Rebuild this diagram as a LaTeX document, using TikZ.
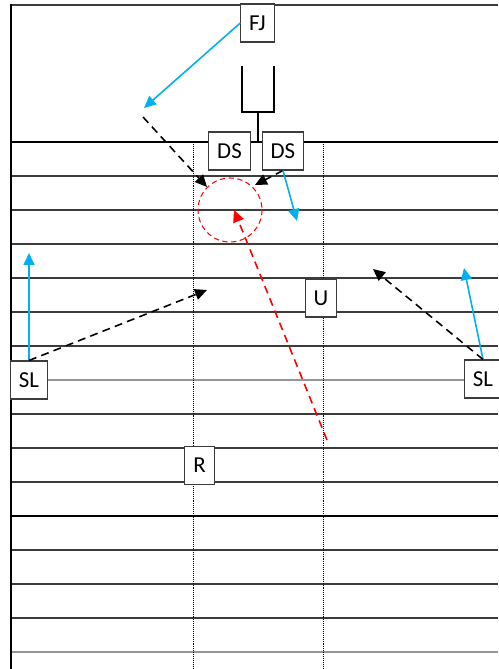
\documentclass[tikz,border=0pt]{standalone}
\usepackage{fontspec}
\setmainfont{Carlito}
\usetikzlibrary{arrows.meta,positioning}
\definecolor{colCourse}{RGB}{0,176,240}
\definecolor{colBallon}{RGB}{255,0,0}
\definecolor{colTrait}{RGB}{60,60,60}
\definecolor{colClair}{RGB}{150,150,150}

\begin{document}
\begin{tikzpicture}[x=0.02cm, y=-0.02cm, font=\fontsize{13}{15}\selectfont,
    j/.style={rectangle, draw=colTrait, fill=white, line width=0.6pt,
      minimum height=0.76cm, inner xsep=4.8pt, inner ysep=2pt},
    course/.style={-{Triangle[length=2.4mm, width=2.2mm]}, line width=0.9pt,
      colCourse},
    passe/.style={-{Triangle[length=2.4mm, width=2.2mm]}, line width=0.9pt,
      dash pattern=on 4.5pt off 3pt},
    ballon/.style={-{Triangle[length=2.4mm, width=2.2mm]}, line width=0.9pt,
      colBallon, dash pattern=on 4.5pt off 3pt},
    ligne/.style={colTrait, line width=0.7pt}]
    \useasboundingbox (0,0) rectangle (498,669);
    % terrain
    \foreach \y in {176,210,244,278,312,346,414,448,482,550,584,618}
      \draw[ligne] (11,\y) -- (498,\y);
    \foreach \y in {380,652}
      \draw[colClair, line width=0.7pt] (11,\y) -- (498,\y);
    \draw[line width=1.5pt] (11,142) -- (498,142);
    \draw[line width=1.5pt] (11,516) -- (498,516);
    \draw[ligne, line width=1pt] (11,5) -- (498,5);
    \draw[line width=1.4pt] (11,4) -- (11,669);
    \foreach \x in {193,323}
      \draw[line width=0.5pt, dash pattern=on 0.5pt off 0.6pt] (\x,142) -- (\x,669);
    % poteaux
    \draw[line width=1pt] (242,66) -- (242,112) -- (274,112) -- (274,66);
    \draw[line width=1pt] (258,112) -- (258,142);
    \draw[colBallon, line width=0.6pt, dash pattern=on 3pt off 2pt]
      (230,210) circle (32);
    % joueurs
    \node[j] (fj) at (257.5,23) {FJ};
    \node[j] (dsg) at (229.5,151) {DS};
    \node[j, right=0.22cm of dsg] (dsd) {DS};
    \node[j] (u) at (321,298) {U};
    \node[j] (r) at (199.5,465.5) {R};
    \node[j] (slg) at (29,380) {SL};
    \node[j] (sld) at (483,379) {SL};
    % fins de trajets
    \coordinate (fjfin) at (144,108);
    \coordinate (pdeb) at (143,117);
    \coordinate (pfin) at (207,187);
    \coordinate (dsfin) at (255,185);
    \coordinate (dscourse) at (297,221);
    \coordinate (slgcourse) at (29,253);
    \coordinate (slgfin) at (207,290);
    \coordinate (sldcourse) at (464,268);
    \coordinate (sldfin) at (373,269);
    \coordinate (bdeb) at (327,440);
    \coordinate (bfin) at (234,210);
    \draw[course] (fj.west) -- (fjfin);
    \draw[passe] (pdeb) -- (pfin);
    \draw[passe] (dsd.south) -- (dsfin);
    \draw[course] (dsd.south) -- (dscourse);
    \draw[course] (slg.north) -- (slgcourse);
    \draw[passe] (slg.north) -- (slgfin);
    \draw[course] (sld.north) -- (sldcourse);
    \draw[passe] (sld.north) -- (sldfin);
    \draw[ballon] (bdeb) -- (bfin);
  \end{tikzpicture}
\end{document}
